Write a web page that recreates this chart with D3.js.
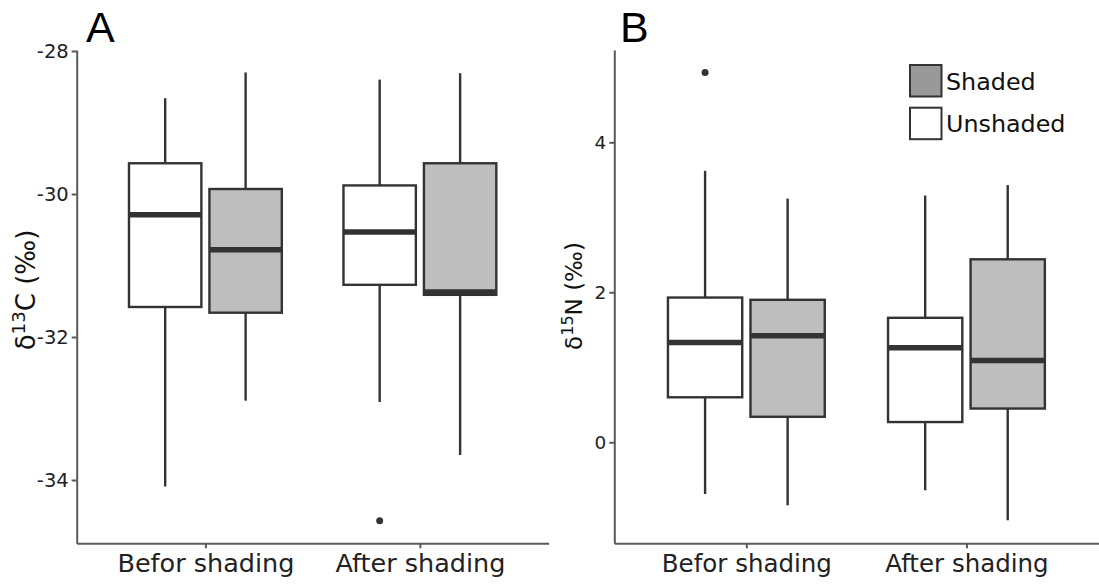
<!DOCTYPE html>
<html>
<head>
	<title>Shading isotopes boxplot</title>
	<script src="https://d3js.org/d3.v7.min.js" charset="utf-8"></script>
	<style>
		body { margin: 0; background: #fff; }
		text { font-family: "DejaVu Sans", Verdana, sans-serif; }
	</style>
</head>
<body>
	<script>
		// categories
		var groups = ["Befor shading", "After shading"];
		var treatments = ["Unshaded", "Shaded"];
		var legendOrder = ["Shaded", "Unshaded"];

		// box stats: [lower whisker, Q1, median, Q3, upper whisker]
		// order: Befor-Unshaded, Befor-Shaded, After-Unshaded, After-Shaded
		var carbonBoxes = [
			[-34.09, -31.58, -30.29, -29.57, -28.66],
			[-32.89, -31.66, -30.78, -29.93, -28.30],
			[-32.91, -31.27, -30.53, -29.88, -28.40],
			[-33.65, -31.41, -31.37, -29.57, -28.31]
		];
		var carbonOutliers = [[], [], [-34.57], []];

		var nitrogenBoxes = [
			[-0.69, 0.60, 1.33, 1.93, 3.62],
			[-0.84, 0.34, 1.42, 1.90, 3.25],
			[-0.64, 0.27, 1.26, 1.66, 3.29],
			[-1.04, 0.45, 1.09, 2.44, 3.43]
		];
		var nitrogenOutliers = [[4.93], [], [], []];

		// tick values
		var carbonTicks = [-34, -32, -30, -28];
		var nitrogenTicks = [0, 2, 4];

		var fills = {Unshaded: "#ffffff", Shaded: "#bebebe"};
		var legendFills = {Unshaded: "#ffffff", Shaded: "#999999"};

		var svg = d3.select("body")
			.append("svg")
			.attr("width", 1099)
			.attr("height", 588);

		function drawPanel(opt) {
			var x = d3.scalePoint()
				.domain(groups)
				.range([opt.left, opt.right])
				.padding(0.6);
			var step = x.step();
			var dodge = d3.scaleBand()
				.domain(treatments)
				.range([-0.375 * step, 0.375 * step]);
			var boxW = dodge.bandwidth() * 0.9;

			var y = d3.scaleLinear()
				.domain(opt.domain)
				.range([opt.bottom, opt.top]);

			var g = svg.append("g");

			// axes
			var yAxis = g.append("g")
				.attr("class", "axis")
				.attr("transform", "translate(" + opt.left + ",0)")
				.call(d3.axisLeft(y).tickValues(opt.ticks).tickFormat(function(d) { return String(d); })
					.tickSize(5).tickPadding(3).tickSizeOuter(0));
			var xAxis = g.append("g")
				.attr("class", "axis")
				.attr("transform", "translate(0," + opt.bottom + ")")
				.call(d3.axisBottom(x).tickSize(5).tickPadding(6).tickSizeOuter(0));

			g.selectAll(".axis path, .axis line")
				.attr("stroke", "#5a5a5a")
				.attr("stroke-width", 2);
			g.selectAll(".axis text")
				.attr("fill", "#222")
				.style("font-family", "DejaVu Sans");
			yAxis.selectAll("text").attr("font-size", opt.tickSize);
			xAxis.selectAll("text").attr("font-size", opt.catSize);

			var cells = [];
			groups.forEach(function(grp, i) {
				treatments.forEach(function(tr, j) {
					var k = i * 2 + j;
					cells.push({group: grp, treatment: tr, s: opt.boxes[k], out: opt.outliers[k]});
				});
			});

			var box = g.selectAll(".box")
				.data(cells)
				.enter().append("g")
				.attr("class", "box")
				.attr("transform", function(d) { return "translate(" + (x(d.group) + dodge(d.treatment) + dodge.bandwidth() / 2) + ",0)"; });

			// whiskers
			box.append("line")
				.attr("y1", function(d) { return y(d.s[0]); })
				.attr("y2", function(d) { return y(d.s[1]); })
				.attr("stroke", "#333").attr("stroke-width", 2.4);
			box.append("line")
				.attr("y1", function(d) { return y(d.s[3]); })
				.attr("y2", function(d) { return y(d.s[4]); })
				.attr("stroke", "#333").attr("stroke-width", 2.4);

			box.append("rect")
				.attr("x", -boxW / 2)
				.attr("width", boxW)
				.attr("y", function(d) { return y(d.s[3]); })
				.attr("height", function(d) { return y(d.s[1]) - y(d.s[3]); })
				.attr("fill", function(d) { return fills[d.treatment]; })
				.attr("stroke", "#333")
				.attr("stroke-width", 2.4);

			// median
			box.append("line")
				.attr("x1", -boxW / 2)
				.attr("x2", boxW / 2)
				.attr("y1", function(d) { return y(d.s[2]); })
				.attr("y2", function(d) { return y(d.s[2]); })
				.attr("stroke", "#333")
				.attr("stroke-width", 5.5);

			box.selectAll(".out")
				.data(function(d) { return d.out; })
				.enter().append("circle")
				.attr("class", "out")
				.attr("cy", function(d) { return y(d); })
				.attr("r", 3.5)
				.attr("fill", "#333");

			// y label
			var lab = g.append("text")
				.attr("transform", "translate(" + opt.labelX + "," + opt.labelY + ") rotate(-90)")
				.attr("text-anchor", "middle")
				.attr("font-size", opt.labelSize)
				.attr("fill", "#111");
			lab.append("tspan").text("δ");
			lab.append("tspan").attr("font-size", opt.labelSize * 0.7).attr("dy", "-0.55em").text(opt.iso);
			lab.append("tspan").attr("dy", "0.38em").text(opt.elem + " (‰)");

			// panel letter
			g.append("text")
				.attr("x", opt.letterX)
				.attr("y", 42)
				.attr("font-size", 43)
				.attr("fill", "#000")
				.style("font-family", "Liberation Sans, Arial, sans-serif")
				.text(opt.letter);
		}

		drawPanel({
			left: 76.7, right: 548.6, top: 50, bottom: 543.3,
			domain: [-34.885, -27.986], ticks: carbonTicks,
			boxes: carbonBoxes, outliers: carbonOutliers,
			tickSize: 19.5, catSize: 25.5, labelSize: 26,
			labelX: 35, labelY: 290, iso: "13", elem: "C", letter: "A", letterX: 86
		});

		drawPanel({
			left: 614.3, right: 1098.5, top: 50, bottom: 543.3,
			domain: [-1.347, 5.231], ticks: nitrogenTicks,
			boxes: nitrogenBoxes, outliers: nitrogenOutliers,
			tickSize: 18.5, catSize: 24.5, labelSize: 23,
			labelX: 582, labelY: 296, iso: "15", elem: "N", letter: "B", letterX: 620
		});

		// legend
		var legend = svg.append("g")
			.selectAll(".key")
			.data(legendOrder)
			.enter().append("g")
			.attr("class", "key")
			.attr("transform", function(d, i) { return "translate(910," + (65 + i * 42.7) + ")"; });
		legend.append("rect")
			.attr("width", 31.5)
			.attr("height", 31.5)
			.attr("fill", function(d) { return legendFills[d]; })
			.attr("stroke", "#333")
			.attr("stroke-width", 2);
		legend.append("text")
			.attr("x", 36)
			.attr("y", 16)
			.attr("dy", "0.36em")
			.attr("font-size", 23.8)
			.attr("fill", "#111")
			.text(function(d) { return d; });
	</script>
</body>
</html>
